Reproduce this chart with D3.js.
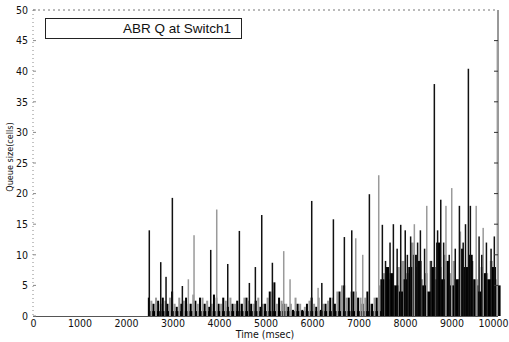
<!DOCTYPE html>
<html><head><meta charset="utf-8">
<script src="https://cdn.jsdelivr.net/npm/d3@7/dist/d3.min.js"></script>
<style>
html,body{margin:0;padding:0;background:#fff;}
svg{display:block;}
text{font-family:"Liberation Sans Narrow","DejaVu Sans Condensed","Liberation Sans",sans-serif;fill:#111;}
</style></head><body>
<svg id="c" width="509" height="342"></svg>
<script>
const xTicks = [0,1000,2000,3000,4000,5000,6000,7000,8000,9000,10000];
const yTicks = [0,5,10,15,20,25,30,35,40,45,50];
const title = "ABR Q at Switch1";
const xLabel = "Time (msec)";
const yLabel = "Queue size(cells)";

// background queue occupancy, sampled every 100 msec from 2500 msec
const baseTimes = d3.range(2500, 10001, 100);
const baseValues = [3,2,2.5,3,2,4,1.5,2,3,2,2.5,3,2,1.5,3.5,2,3,1.5,2,2.5,2,3,2,2.5,1.5,
  2,4,5.5,3,2,1.5,1,2,1,2,3,1.5,1,2,3,2,4,5,3,4,3,2,4,2,3,
  6,8,7,5,4,6,8,10,9,5,4,8,12,6,9,5,6,11,8,10,6,4,7,6,8,5];
// smaller grey samples between them
const midTimes = d3.range(2550, 10000, 100);
const midValues = [2.5,3,2,2.5,3,2,3,2.5,2,3.5,2,3,2.5,2,3,2,2.5,3,2,2,3,2.5,2,3,2,
  3,4,2,2.5,2,2,3,2,1.5,2.5,2,3,2,2.5,3,4,5,3,4,4,3,3,2,3,5,
  7,6,5,8,9,7,12,8,6,7,9,6,8,10,7,9,6,8,7,6,5,8,7,9,6];
// tall isolated peaks: [time, cells]
const blackSpikes = [[2500,14],[2746,8.8],[2860,6.4],[2996,19.3],[3211,4.9],[3821,10.8],
  [4187,8.5],[4437,13.9],[4652,5.4],[4781,8],[4918,16.5],[5147,8.7],[5993,18.8],[6210,5.4],
  [6459,15.8],[6695,12.9],[6854,14],[7233,19.9],[7512,14.9],[7580,9],[7677,12],[7749,15],
  [7830,11],[7907,14.9],[8004,14],[8050,10],[8120,13],[8270,12],[8330,14],[8420,11],
  [8560,9],[8630,37.9],[8700,14],[8768,19],[8830,12],[8950,10],[9080,11],[9169,18],
  [9250,12],[9300,15],[9362,40.4],[9405,18],[9450,9],[9592,13],[9650,10],[9750,12],
  [9850,11],[9920,13]];
const greySpikes = [[3340,6],[3462,13.2],[3950,17.4],[5391,10.6],[5527,6],[6130,4.6],
  [6940,12.7],[7090,10],[7434,23],[8200,15],[8467,18],[8880,18],[9004,20.9],[9190,13.8],
  [9530,18],[9680,14.4],[9985,45]];
const floorBand = [[2500,10000,0.8]];

const svg = d3.select("#c");
const x = d3.scaleLinear().domain([0,10000]).range([33,498]);
const y = d3.scaleLinear().domain([0,50]).range([316,10]);

// frame
svg.append("line").attr("x1",x(0)).attr("x2",x(10000)).attr("y1",y(50)).attr("y2",y(50))
  .attr("stroke","#777").attr("stroke-dasharray","2,3");
svg.append("line").attr("x1",x(0)).attr("x2",x(0)).attr("y1",y(50)).attr("y2",y(0))
  .attr("stroke","#888").attr("stroke-dasharray","1,3");
svg.append("line").attr("x1",x(10000)).attr("x2",x(10000)).attr("y1",y(50)).attr("y2",y(0))
  .attr("stroke","#333");
svg.append("line").attr("x1",x(0)).attr("x2",x(10000)).attr("y1",y(0)+0.5).attr("y2",y(0)+0.5)
  .attr("stroke","#555");

// data
const g = svg.append("g");
g.selectAll(".fl").data(floorBand).enter().append("rect")
  .attr("x",d=>x(d[0])).attr("width",d=>x(d[1])-x(d[0]))
  .attr("y",d=>y(d[2])).attr("height",d=>y(0)-y(d[2])).attr("fill","#000");
g.selectAll(".mid").data(midTimes.map((t,i)=>[t,midValues[i]])).enter().append("rect")
  .attr("x",d=>x(d[0])-1.2).attr("width",d=>d[0]>=7500?3:2).attr("y",d=>y(d[1])).attr("height",d=>y(0)-y(d[1]))
  .attr("fill","#999");
g.selectAll(".base").data(baseTimes.map((t,i)=>[t,baseValues[i]])).enter().append("rect")
  .attr("x",d=>x(d[0])-1.4).attr("width",d=>d[0]>=7500?4:2).attr("y",d=>y(d[1])).attr("height",d=>y(0)-y(d[1]))
  .attr("fill","#000");
g.selectAll(".gs").data(greySpikes).enter().append("rect")
  .attr("x",d=>x(d[0])-0.7).attr("width",1.5).attr("y",d=>y(d[1])).attr("height",d=>y(0)-y(d[1]))
  .attr("fill","#9a9a9a");
g.selectAll(".bs").data(blackSpikes).enter().append("rect")
  .attr("x",d=>x(d[0])-0.7).attr("width",1.5).attr("y",d=>y(d[1])).attr("height",d=>y(0)-y(d[1]))
  .attr("fill","#111");

// axes
const yAxis = svg.append("g").attr("transform",`translate(${x(0)},0)`)
  .call(d3.axisLeft(y).tickValues(yTicks).tickSize(0).tickPadding(5));
yAxis.select(".domain").remove();
yAxis.selectAll("text").style("font-size","10.5px").attr("font-family",null);
svg.append("g").selectAll("line").data(yTicks).enter().append("line")
  .attr("x1",x(0)).attr("x2",x(0)+3).attr("y1",d=>y(d)).attr("y2",d=>y(d)).attr("stroke","#888");
svg.append("g").selectAll("line").data(yTicks.filter(d=>d>0&&d<50)).enter().append("line")
  .attr("x1",x(10000)-4).attr("x2",x(10000)).attr("y1",d=>y(d)).attr("y2",d=>y(d)).attr("stroke","#333");

const xAxis = svg.append("g").attr("transform",`translate(0,${y(0)})`)
  .call(d3.axisBottom(x).tickValues(xTicks).tickFormat(d3.format("d")).tickSize(0).tickPadding(4));
xAxis.select(".domain").remove();
xAxis.selectAll("text").style("font-size","10.5px").attr("font-family",null);
xAxis.selectAll(".tick").filter(d=>d===10000).select("text").attr("text-anchor","end").attr("x",10);

svg.append("text").attr("x",265).attr("y",338).attr("text-anchor","middle")
  .style("font-size","10.5px").text(xLabel);
svg.append("text").attr("transform","translate(13,157) rotate(-90)").attr("text-anchor","middle")
  .style("font-size","9px").text(yLabel);

// legend
svg.append("rect").attr("x",45.5).attr("y",18.5).attr("width",196).attr("height",20)
  .attr("fill","#fff").attr("stroke","#222");
svg.append("text").attr("x",231).attr("y",33).attr("text-anchor","end")
  .style("font-size","13.5px").style("font-family","'Liberation Sans',Arial,sans-serif").text(title);
</script></body></html>
